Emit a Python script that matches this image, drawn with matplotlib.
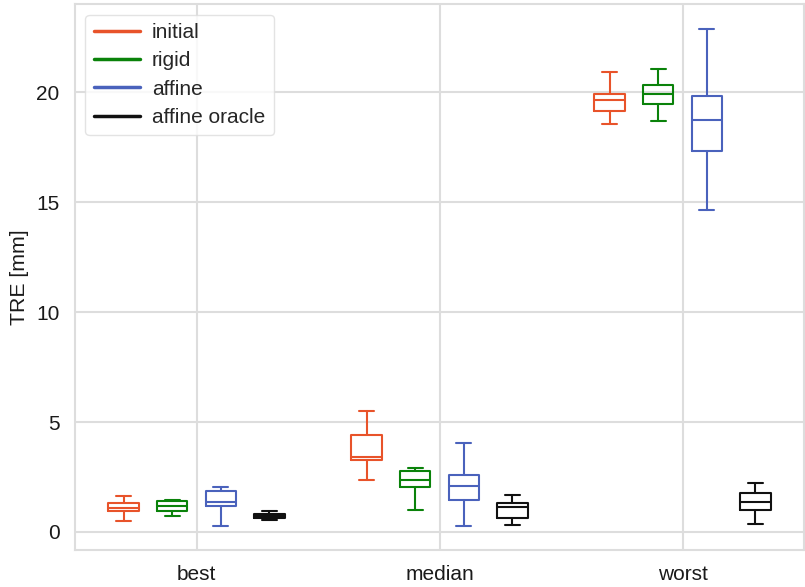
import matplotlib
matplotlib.use("Agg")
import matplotlib.pyplot as plt
import seaborn as sns
from matplotlib.lines import Line2D

sns.set_theme(style="whitegrid")
plt.rcParams['font.family'] = ['Liberation Sans', 'DejaVu Sans']

categories = ["best", "median", "worst"]
methods = ["initial", "rigid", "affine", "affine oracle"]
colors = ["#E8532A", "#0A820A", "#4A62BC", "#111111"]

# per method: [whislo, q1, median, q3, whishi] for best, median, worst
initial_stats = [
    [0.50, 0.94, 1.10, 1.32, 1.62],
    [2.36, 3.26, 3.42, 4.42, 5.50],
    [18.53, 19.14, 19.65, 19.90, 20.90],
]
rigid_stats = [
    [0.74, 0.97, 1.20, 1.42, 1.45],
    [1.00, 2.03, 2.36, 2.79, 2.91],
    [18.68, 19.44, 19.91, 20.32, 21.03],
]
affine_stats = [
    [0.27, 1.20, 1.38, 1.85, 2.03],
    [0.27, 1.47, 2.11, 2.61, 4.06],
    [14.62, 17.32, 18.74, 19.83, 22.86],
]
oracle_stats = [
    [0.55, 0.64, 0.72, 0.80, 0.95],
    [0.32, 0.62, 1.15, 1.30, 1.70],
    [0.38, 0.99, 1.36, 1.76, 2.24],
]
all_stats = [initial_stats, rigid_stats, affine_stats, oracle_stats]
offsets = [-0.3, -0.1, 0.1, 0.3]

fig = plt.figure(figsize=(8.05, 5.87), dpi=100)
ax = fig.add_axes([0.0932, 0.063, 0.9056, 0.930])

for m, (stats, col, off) in enumerate(zip(all_stats, colors, offsets)):
    bxp_stats = []
    for s in stats:
        lo, q1, med, q3, hi = s
        bxp_stats.append(dict(whislo=lo, q1=q1, med=med, q3=q3, whishi=hi, fliers=[]))
    pos = [i + off for i in range(len(categories))]
    lw = 1.5
    ax.bxp(bxp_stats, positions=pos, widths=0.125, showfliers=False,
           boxprops=dict(color=col, linewidth=lw),
           medianprops=dict(color=col, linewidth=lw),
           whiskerprops=dict(color=col, linewidth=lw),
           capprops=dict(color=col, linewidth=lw),
           manage_ticks=False)

ax.set_xticks(range(len(categories)))
ax.set_xticklabels(categories)
ax.set_xlim(-0.5, 2.5)
ax.set_ylim(-0.82, 24.0)
ax.set_yticks([0, 5, 10, 15, 20])
ax.tick_params(axis="y", labelsize=15, colors="#1a1a1a", pad=5)
ax.tick_params(axis="x", labelsize=15, colors="#1a1a1a", pad=5)
ax.set_ylabel("TRE [mm]", fontsize=15.3, color="#1a1a1a", labelpad=5)
ax.grid(True, color="#dddddd", linewidth=1.5)
for sp in ax.spines.values():
    sp.set_color("#dddddd")
    sp.set_linewidth(1.5)

handles = [Line2D([0], [0], color=c, lw=2.5) for c in colors]
leg = ax.legend(handles, methods, loc="upper left", fontsize=15,
                handlelength=2.2, frameon=True, borderaxespad=0.5,
                labelspacing=0.45, handletextpad=0.6)
leg.get_frame().set_edgecolor("#dddddd")

fig.savefig("out.png", dpi=100)
